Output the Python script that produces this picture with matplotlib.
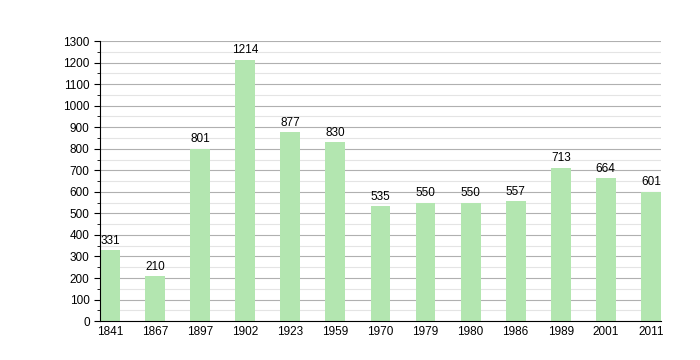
import numpy as np
import matplotlib.pyplot as plt
from matplotlib.ticker import MultipleLocator

plt.rcParams['font.family'] = ['Liberation Sans', 'DejaVu Sans']

years = ['1841', '1867', '1897', '1902', '1923', '1959', '1970', '1979',
         '1980', '1986', '1989', '2001', '2011']
population = [331, 210, 801, 1214, 877, 830, 535, 550, 550, 557, 713, 664, 601]

fig = plt.figure(figsize=(7, 3.6), dpi=100)
ax = fig.add_axes([0.143, 0.108, 0.801, 0.778])

X = np.arange(len(years))
width = 0.44
ax.bar(X, population, width=width, color='#b3e6b0', zorder=2)
for x, v in zip(X, population):
    ax.text(x, v + 15, str(v), ha='center', va='bottom', fontsize=8.5)

ax.set_xlim(-width / 2, len(years) - 1 + width / 2)
ax.set_ylim(0, 1300)
ax.yaxis.set_major_locator(MultipleLocator(100))
ax.yaxis.set_minor_locator(MultipleLocator(50))
ax.grid(axis='y', which='major', color='#b0b0b0', linewidth=0.8, zorder=0)
ax.grid(axis='y', which='minor', color='#e4e4e4', linewidth=0.8, zorder=0)
ax.set_xticks(X, years)
ax.tick_params(axis='both', labelsize=8.5)
ax.tick_params(axis='x', length=0)
ax.tick_params(axis='y', which='major', length=4)
ax.tick_params(axis='y', which='minor', length=2)
for s in ['top', 'right']:
    ax.spines[s].set_visible(False)

fig.savefig('out.png')
